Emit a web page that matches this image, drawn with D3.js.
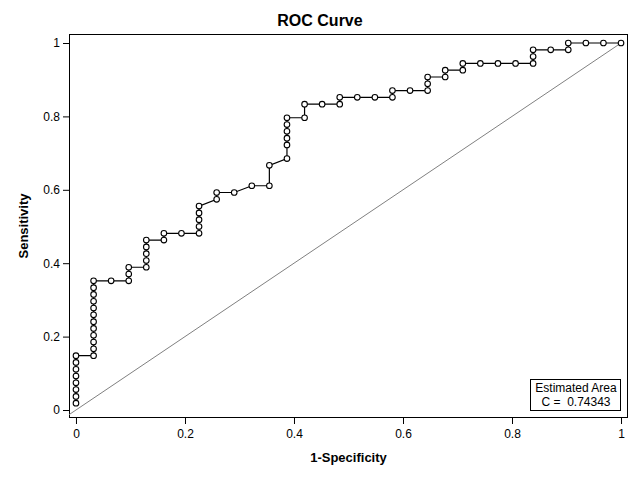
<!DOCTYPE html>
<html><head><meta charset="utf-8">
<script src="https://cdn.jsdelivr.net/npm/d3@7"></script>
<style>body{margin:0;background:#fff}svg{display:block}text{font-family:"Liberation Sans",Arial,sans-serif}</style>
</head><body><svg id="c" width="640" height="480"></svg>
<script>
const titleText = "ROC Curve";
const xLabel = "1-Specificity";
const yLabel = "Sensitivity";
const tickValues = [0, 0.2, 0.4, 0.6, 0.8, 1];
const tickLabels = ["0", "0.2", "0.4", "0.6", "0.8", "1"];
const legendLines = ["Estimated Area", "C =  0.74343"];
const oneMinusSpecificity = [
  0,0,0,0,0,0,0,0,
  0.0323,0.0323,0.0323,0.0323,0.0323,0.0323,0.0323,0.0323,0.0323,0.0323,0.0323,0.0323,
  0.0645,0.0968,0.0968,0.0968,
  0.1290,0.1290,0.1290,0.1290,0.1290,
  0.1613,0.1613,0.1935,0.2258,0.2258,0.2258,0.2258,0.2258,
  0.2581,0.2581,0.2903,0.3226,0.3548,0.3548,
  0.3871,0.3871,0.3871,0.3871,0.3871,0.3871,
  0.4194,0.4194,0.4516,0.4839,0.4839,0.5161,0.5484,0.5806,0.5806,0.6129,0.6452,0.6452,0.6452,
  0.6774,0.6774,0.7097,0.7097,0.7419,0.7742,0.8065,0.8387,0.8387,0.8387,0.8710,0.9032,0.9032,
  0.9355,0.9677,1
];
const sensitivity = [
  0.0185,0.0370,0.0556,0.0741,0.0926,0.1111,0.1296,0.1481,
  0.1481,0.1667,0.1852,0.2037,0.2222,0.2407,0.2593,0.2778,0.2963,0.3148,0.3333,0.3519,
  0.3519,0.3519,0.3704,0.3889,
  0.3889,0.4074,0.4259,0.4444,0.4630,
  0.4630,0.4815,0.4815,0.4815,0.5000,0.5185,0.5370,0.5556,
  0.5741,0.5926,0.5926,0.6111,0.6111,0.6667,
  0.6852,0.7222,0.7407,0.7593,0.7778,0.7963,
  0.7963,0.8333,0.8333,0.8333,0.8519,0.8519,0.8519,0.8519,0.8704,0.8704,0.8704,0.8889,0.9074,
  0.9074,0.9259,0.9259,0.9444,0.9444,0.9444,0.9444,0.9444,0.9630,0.9815,0.9815,0.9815,
  1,1,1,1
];
const diagonal = [[-0.05,-0.05],[1,1]];

const svg = d3.select("#c");
const L = 69, R = 628, T = 34, B = 418;
const x = d3.scaleLinear().domain([-0.0128, 1.0128]).range([L, R]);
const y = d3.scaleLinear().domain([0, 1]).range([410, 43]);

svg.append("defs").append("clipPath").attr("id","clip")
  .append("rect").attr("x",L).attr("y",T).attr("width",R-L).attr("height",B-T);

// frame
svg.append("rect").attr("x",L+0.5).attr("y",T+0.5).attr("width",R-L-1).attr("height",B-T-1)
  .attr("fill","none").attr("stroke","#000").attr("stroke-width",1);

// axes
const xAxis = d3.axisBottom(x).tickValues(tickValues).tickSize(6).tickPadding(5)
  .tickFormat((d,i)=>tickLabels[i]);
const gx = svg.append("g").attr("transform",`translate(0,${B})`).call(xAxis);
const yAxis = d3.axisLeft(y).tickValues(tickValues).tickSize(6).tickPadding(3)
  .tickFormat((d,i)=>tickLabels[i]);
const gy = svg.append("g").attr("transform",`translate(${L},0)`).call(yAxis);
[gx,gy].forEach(g=>{
  g.select(".domain").remove();
  g.selectAll(".tick line").attr("stroke","#000");
  g.selectAll("text").attr("fill","#000").style("font-size","12px").style("font-family","'Liberation Sans',Arial,sans-serif");
});

// diagonal reference
svg.append("path").datum(diagonal).attr("clip-path","url(#clip)")
  .attr("d", d3.line().x(d=>x(d[0])).y(d=>y(d[1])))
  .attr("stroke","#808080").attr("stroke-width",1).attr("fill","none");

const pts = oneMinusSpecificity.map((v,i)=>[v, sensitivity[i]]);
svg.append("path").datum(pts)
  .attr("d", d3.line().x(d=>x(d[0])).y(d=>y(d[1])))
  .attr("stroke","#000").attr("stroke-width",1.2).attr("fill","none");
svg.append("g").selectAll("circle").data(pts).join("circle")
  .attr("cx",d=>x(d[0])).attr("cy",d=>y(d[1])).attr("r",2.8)
  .attr("fill","#fff").attr("stroke","#000").attr("stroke-width",1.1);

// titles
svg.append("text").attr("x",320).attr("y",26).attr("text-anchor","middle")
  .style("font-size","16px").style("font-weight","bold").text(titleText);
svg.append("text").attr("x",(L+R)/2).attr("y",462).attr("text-anchor","middle")
  .style("font-size","13px").style("font-weight","bold").text(xLabel);
svg.append("text").attr("transform",`translate(28,${(T+B)/2}) rotate(-90)`).attr("text-anchor","middle")
  .style("font-size","13px").style("font-weight","bold").text(yLabel);

// legend box
svg.append("rect").attr("x",530.5).attr("y",379.5).attr("width",90).attr("height",31)
  .attr("fill","#fff").attr("stroke","#000").attr("stroke-width",1);
svg.append("text").attr("x",576).attr("y",392).attr("text-anchor","middle")
  .style("font-size","12px").text(legendLines[0]);
svg.append("text").attr("x",576).attr("y",406).attr("text-anchor","middle")
  .style("font-size","12px").style("white-space","pre").attr("xml:space","preserve").text(legendLines[1]);
</script></body></html>
